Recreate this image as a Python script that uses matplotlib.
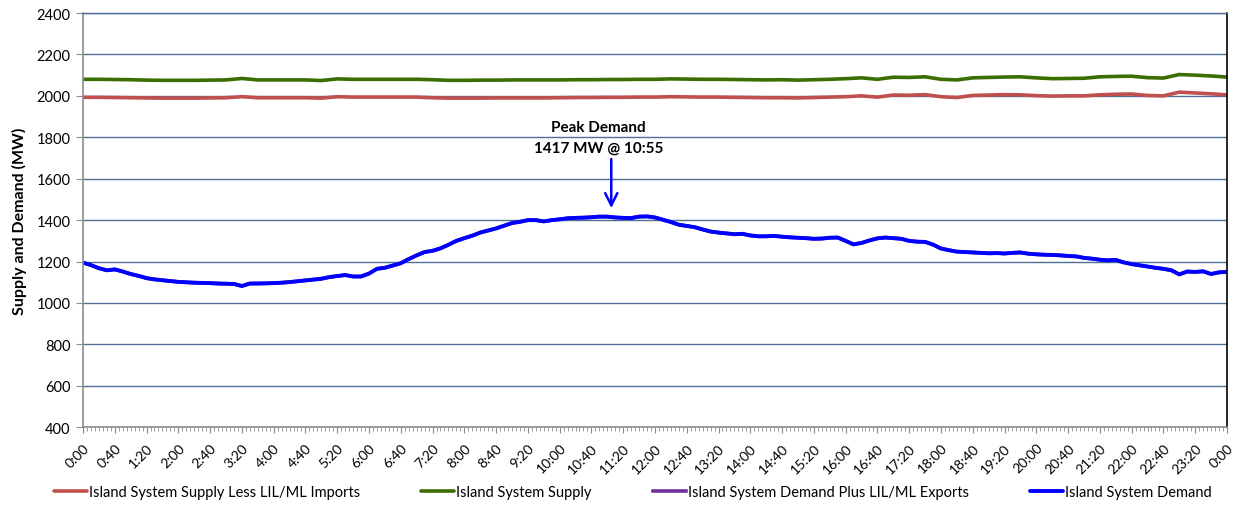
import numpy as np
import matplotlib
matplotlib.use("Agg")
import matplotlib.pyplot as plt
from matplotlib.ticker import MultipleLocator

# ---------------- data ----------------
# Island System Demand, every 10 minutes from 0:00 to 24:00 (MW)
demand = [1195, 1183, 1168, 1158, 1162, 1152, 1140, 1131, 1120, 1114,
          1110, 1106, 1102, 1100, 1098, 1097, 1096, 1094, 1093, 1092,
          1082, 1094, 1094, 1095, 1096, 1098, 1101, 1105, 1109, 1113,
          1117, 1125, 1130, 1135, 1128, 1128, 1142, 1165, 1170, 1181,
          1192, 1212, 1230, 1246, 1252, 1264, 1281, 1300, 1313, 1325,
          1340, 1350, 1360, 1373, 1386, 1392, 1400, 1400, 1394, 1400,
          1404, 1409, 1411, 1412, 1414, 1417, 1417, 1413, 1411, 1410,
          1417, 1418, 1413, 1402, 1391, 1378, 1372, 1366, 1355, 1345,
          1340, 1336, 1332, 1334, 1326, 1322, 1322, 1324, 1320, 1317,
          1315, 1313, 1310, 1311, 1315, 1316, 1300, 1283, 1290, 1302,
          1312, 1316, 1313, 1310, 1300, 1296, 1295, 1282, 1263, 1255,
          1248, 1246, 1244, 1242, 1240, 1241, 1239, 1242, 1244, 1238,
          1235, 1233, 1232, 1230, 1227, 1225, 1218, 1214, 1209, 1206,
          1208, 1196, 1188, 1182, 1176, 1170, 1165, 1158, 1138, 1152,
          1150, 1153, 1140, 1148, 1150]
# Island System Demand Plus LIL/ML Exports (coincides with demand)
demand_plus_exports = list(demand)

# Island System Supply, every 20 minutes (MW)
supply = [2080, 2080, 2079, 2078, 2076, 2075, 2075, 2075, 2076, 2077,
          2084, 2077, 2077, 2077, 2077, 2074, 2082, 2080, 2080, 2080,
          2080, 2080, 2078, 2075, 2075, 2076, 2076, 2077, 2077, 2077,
          2077, 2078, 2078, 2079, 2079, 2080, 2080, 2082, 2081, 2080,
          2080, 2079, 2078, 2077, 2078, 2076, 2078, 2080, 2083, 2087,
          2080, 2090, 2089, 2092, 2080, 2077, 2087, 2089, 2091, 2092,
          2087, 2083, 2084, 2085, 2092, 2094, 2095, 2088, 2086, 2103,
          2100, 2096, 2091]
# Island System Supply Less LIL/ML Imports, every 20 minutes (MW)
supply_less_imports = [1993, 1993, 1992, 1991, 1990, 1989, 1989, 1989, 1990, 1991,
                       1996, 1991, 1991, 1991, 1991, 1989, 1996, 1994, 1994, 1994,
                       1994, 1994, 1991, 1989, 1989, 1989, 1990, 1990, 1990, 1990,
                       1991, 1992, 1992, 1993, 1993, 1994, 1994, 1996, 1995, 1994,
                       1994, 1993, 1992, 1991, 1991, 1990, 1992, 1994, 1996, 2000,
                       1994, 2004, 2003, 2006, 1996, 1992, 2002, 2004, 2006, 2005,
                       2001, 1999, 2000, 2000, 2005, 2008, 2009, 2002, 2000, 2018,
                       2014, 2010, 2005]

x_tick_labels = ["0:00", "0:40", "1:20", "2:00", "2:40", "3:20", "4:00", "4:40",
                 "5:20", "6:00", "6:40", "7:20", "8:00", "8:40", "9:20", "10:00",
                 "10:40", "11:20", "12:00", "12:40", "13:20", "14:00", "14:40",
                 "15:20", "16:00", "16:40", "17:20", "18:00", "18:40", "19:20",
                 "20:00", "20:40", "21:20", "22:00", "22:40", "23:20", "0:00"]
y_ticks = [400, 600, 800, 1000, 1200, 1400, 1600, 1800, 2000, 2200, 2400]

peak_value = 1417
peak_label = "10:55"
peak_minute = 655

series_names = ["Island System Supply Less LIL/ML Imports",
                "Island System Supply",
                "Island System Demand Plus LIL/ML Exports",
                "Island System Demand"]

# ---------------- plot ----------------
plt.rcParams['font.family'] = ['Lato', 'DejaVu Sans']

t10 = np.arange(len(demand)) * 10
t20 = np.arange(len(supply)) * 20

fig = plt.figure(figsize=(12.33, 5.06), dpi=100)
ax = fig.add_axes([0.0673, 0.1536, 0.9951 - 0.0673, 0.9723 - 0.1536])

grid_color = '#4F6F96'
ax.set_ylim(400, 2400)
ax.set_xlim(0, 1440)
ax.set_yticks(y_ticks)
ax.yaxis.grid(True, color=grid_color, lw=1.0)
ax.set_axisbelow(True)

l1, = ax.plot(t20, supply_less_imports, color='#C0504D', lw=2.6, solid_capstyle='round')
l2, = ax.plot(t20, supply, color='#3B6E00', lw=2.6, solid_capstyle='round')
l3, = ax.plot(t10, demand_plus_exports, color='#7030A0', lw=2.6)
l4, = ax.plot(t10, demand, color='#0000FF', lw=2.8, solid_capstyle='round')

# spines
ax.spines['left'].set_color('#8C8C8C')
ax.spines['bottom'].set_color('#8C8C8C')
ax.spines['left'].set_linewidth(1.2)
ax.spines['bottom'].set_linewidth(1.2)
ax.spines['right'].set_color('black')
ax.spines['right'].set_linewidth(1.2)
ax.spines['top'].set_color(grid_color)
ax.spines['top'].set_linewidth(1.0)

ax.set_xticks(np.arange(len(x_tick_labels)) * 40)
ax.set_xticklabels(x_tick_labels, rotation=45, ha='right', va='top',
                   rotation_mode='anchor', fontsize=10)
ax.xaxis.set_minor_locator(MultipleLocator(5))
ax.tick_params(axis='x', which='major', length=4, color='#8C8C8C', direction='out', pad=6)
ax.tick_params(axis='x', which='minor', length=3, color='#8C8C8C', direction='out')
ax.tick_params(axis='y', which='major', length=5, color='#8C8C8C', direction='out',
               labelsize=10.5, pad=4)

ax.set_ylabel("Supply and Demand (MW)", fontsize=11.5, fontweight='bold', labelpad=7)

# peak annotation
ax.text(peak_minute - 6, 1850, "Peak Demand", ha='center', va='center',
        fontsize=11, fontweight='bold')
ax.text(peak_minute - 6, 1752, f"{peak_value} MW @ {peak_label}", ha='center',
        va='center', fontsize=11, fontweight='bold')
ax.annotate("", xy=(peak_minute + 10, 1458), xytext=(peak_minute + 10, 1695),
            arrowprops=dict(arrowstyle='->', color='#0000FF', lw=1.8,
                            mutation_scale=22, shrinkA=0, shrinkB=0))

fig.legend([l1, l2, l3, l4], series_names, loc='center', ncol=4,
           bbox_to_anchor=(0.513, 0.025), frameon=False, fontsize=10.5,
           handlelength=2.3, handletextpad=0.1, columnspacing=4.2)

fig.savefig("out.png", dpi=100)
